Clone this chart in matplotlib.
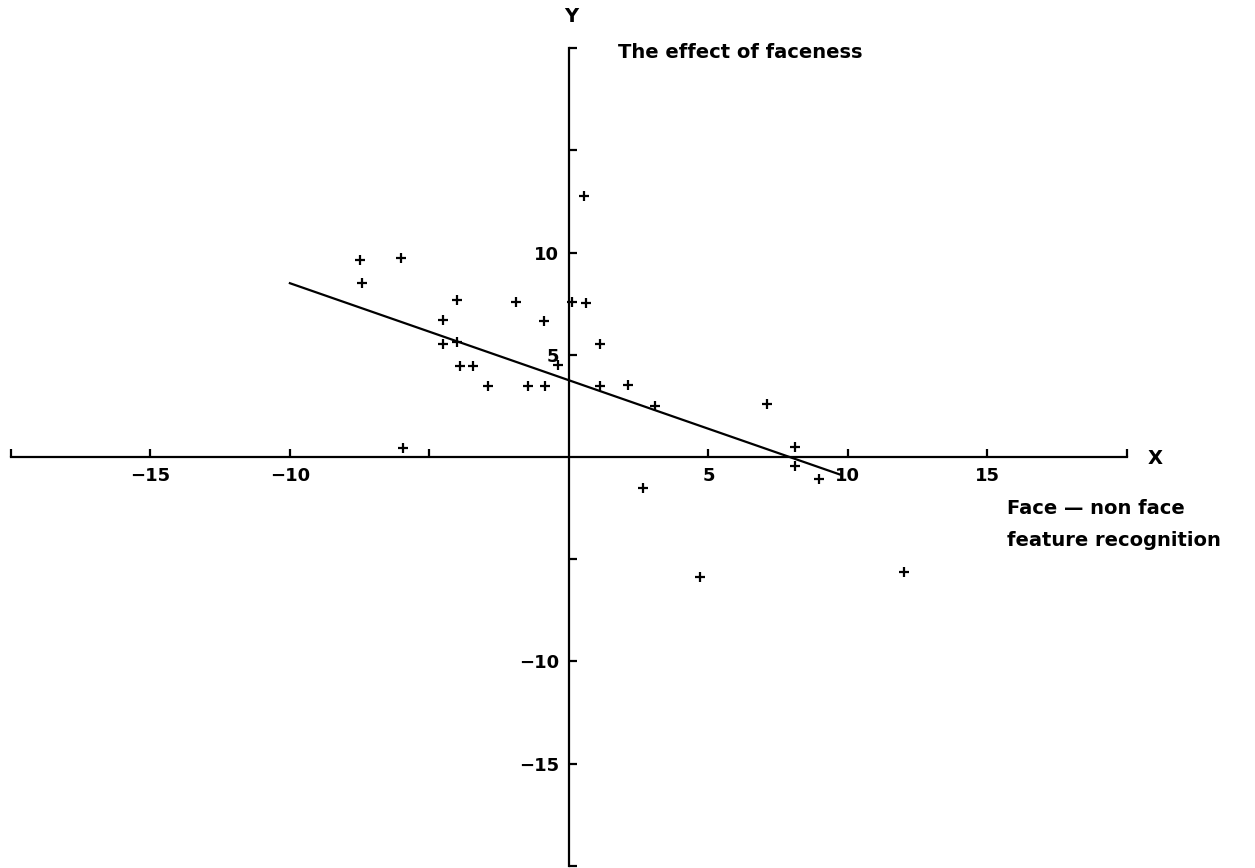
import matplotlib.pyplot as plt

# pontos (x = face - non face, y = faceness)
pontos_x = [-7.5, -6.0, -7.4, -4.0, -1.9, 0.1, 0.6, -4.5, -0.9, -4.5,
            -4.0, 1.1, -3.9, -3.45, -0.4, -2.9, -1.45, -0.85, 1.1, -5.95,
            2.1, 3.1, 7.1, 8.1, 8.1, 8.95, 2.65, 0.55, 4.7, 12.0]
pontos_y = [9.65, 9.75, 8.5, 7.7, 7.6, 7.6, 7.55, 6.7, 6.65, 5.55,
            5.6, 5.55, 4.45, 4.45, 4.5, 3.45, 3.45, 3.45, 3.45, 0.45,
            3.5, 2.5, 2.6, 0.5, -0.45, -1.1, -1.5, 12.75, -5.85, -5.6]

# reta de regressao (extremos)
reta_x = [-10.0, 9.7]
reta_y = [8.5, -0.85]

x_ticks = [-20, -15, -10, -5, 5, 10, 15, 20]
x_labels = ['', '\u221215', '\u221210', '', '5', '10', '15', '']
y_ticks = [-20, -15, -10, -5, 5, 10, 15, 20]
y_labels = ['', '\u221215', '\u221210', '', '5', '10', '', '']

plt.rcParams['font.family'] = ['DejaVu Sans']
plt.rcParams['font.weight'] = 'bold'

fig = plt.figure(figsize=(12.55, 8.68), dpi=100)
ax = fig.add_axes([0, 0, 1, 1])

ax.plot(reta_x, reta_y, color='black', linewidth=1.6)
ax.plot(pontos_x, pontos_y, linestyle='none', marker='+', color='black',
        markersize=7, markeredgewidth=1.6)

ax.set_xlim(-20.39, 24.59)
ax.set_ylim(-20.10, 22.35)

for lado in ['top', 'right']:
    ax.spines[lado].set_visible(False)
ax.spines['left'].set_position(('data', 0))
ax.spines['bottom'].set_position(('data', 0))
ax.spines['left'].set_bounds(-20, 20)
ax.spines['bottom'].set_bounds(-20, 20)
ax.spines['left'].set_linewidth(1.6)
ax.spines['bottom'].set_linewidth(1.6)

ax.set_xticks(x_ticks)
ax.set_xticklabels(x_labels)
ax.set_yticks(y_ticks)
ax.set_yticklabels(y_labels)
ax.tick_params(axis='x', direction='in', length=6, width=1.6, pad=7, labelsize=13)
ax.tick_params(axis='y', direction='in', length=6, width=1.6, pad=7, labelsize=13)
for t in ax.get_xticklabels() + ax.get_yticklabels():
    t.set_fontweight('bold')

W, H = 1255, 868
fig.text(571 / W, 1 - 17 / H, 'Y', ha='center', va='center', fontsize=14, fontweight='bold')
fig.text(618 / W, 1 - 53 / H, 'The effect of faceness', ha='left', va='center',
         fontsize=14, fontweight='bold')
fig.text(1155 / W, 1 - 459 / H, 'X', ha='center', va='center', fontsize=14, fontweight='bold')
fig.text(1007 / W, 1 - 509 / H, 'Face \u2014 non face', ha='left', va='center',
         fontsize=14, fontweight='bold')
fig.text(1007 / W, 1 - 541 / H, 'feature recognition', ha='left', va='center',
         fontsize=14, fontweight='bold')

plt.savefig('out.png', dpi=100)
